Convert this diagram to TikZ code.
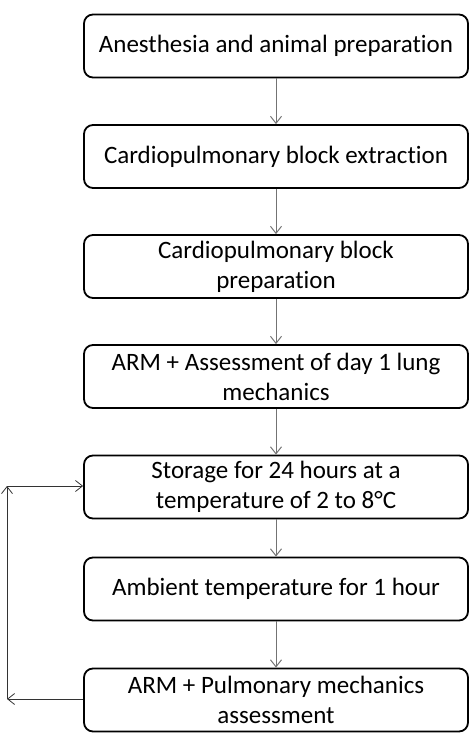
\documentclass[tikz,border=0pt]{standalone}
\usepackage{fontspec}
\setmainfont{Carlito}[Ligatures=NoCommon]
\usepackage{tikz}
\usetikzlibrary{arrows.meta, positioning}
\tikzset{>={Straight Barb[length=7pt,width=11pt]}}
\tikzset{stepbox/.style={draw, line width=1.8pt, rounded corners=9pt, minimum width=384pt, minimum height=63pt, align=center, font=\fontsize{25}{30}\selectfont, inner sep=2pt}}

\begin{document}
\begin{tikzpicture}[x=1pt, y=-1pt, line width=1pt]
			\useasboundingbox (0,0) rectangle (476,745);
			\node[stepbox] (anest) at (276,46) {Anesthesia and animal preparation};
			\node[stepbox] (extr) at (276,156.5) {Cardiopulmonary block extraction};
			\node[stepbox] (prep) at (276,266.5) {Cardiopulmonary block\\preparation};
			\node[stepbox] (day1) at (276,376.5) {ARM + Assessment of day 1 lung\\mechanics};
			\node[stepbox] (stor) at (276,487) {Storage for 24 hours at a\\temperature of 2 to 8\textdegree C};
			\node[stepbox] (amb) at (276,589) {Ambient temperature for 1 hour};
			\node[stepbox] (pulm) at (276,700) {ARM + Pulmonary mechanics\\assessment};
			\coordinate (lowL) at (7,699);
			\coordinate (upL) at (7,486);
			\draw [->, black!55](anest)--(extr); \draw [->, black!55](extr)--(prep);
			\draw [->, black!55](prep)--(day1); \draw [->, black!55](day1)--(stor);
			\draw [->, black!55](stor)--(amb); \draw [->, black!55](amb)--(pulm);
			%loop back to storage
			\draw [->, black!80, line width=0.8pt](pulm.west|-lowL)--(lowL);
			\draw [->, black!80, line width=0.8pt](lowL)--(upL);
			\draw [->, black!80, line width=0.8pt](upL)--(stor.west|-upL);
		\end{tikzpicture}
\end{document}
